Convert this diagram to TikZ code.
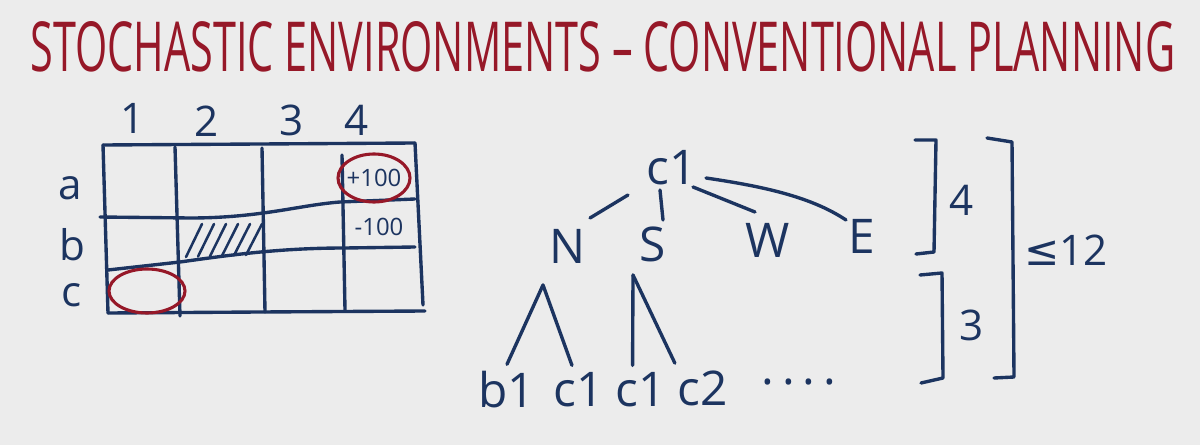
\documentclass[tikz,border=0pt]{standalone}
\usepackage{fontspec}
\setmainfont{Open Sans}
\newfontfamily\dvfont{DejaVu Sans}
\definecolor{ink}{RGB}{28,52,96}
\definecolor{redink}{RGB}{150,24,40}
\definecolor{board}{RGB}{236,236,236}
\begin{document}
\begin{tikzpicture}[x=0.025cm,y=-0.025cm,
  pen/.style={draw=ink,line width=2.4pt,line cap=round,line join=round},
  rpen/.style={draw=redink,line width=2.2pt},
  lab/.style={text=ink,font=\fontsize{30}{32}\selectfont,inner sep=4pt},
  small/.style={text=ink,font=\fontsize{17}{19}\selectfont,inner sep=1pt},
  tree/.style={text=ink,font=\fontsize{34}{36}\selectfont,inner sep=5pt}]
\fill[board] (0,0) rectangle (1200,445);
\useasboundingbox (0,0) rectangle (1200,445);
% title
\node[text=redink,anchor=center] (title) at (603,47)
  {\resizebox{28.6cm}{1.25cm}{STOCHASTIC ENVIRONMENTS – CONVENTIONAL PLANNING}};
% grid
\draw[pen] (103,145) -- (260,144) -- (415,143);
\draw[pen] (108,313) -- (260,312) -- (425,311);
\draw[pen] (103,145) -- (108,313);
\draw[pen] (175,147) -- (180,316);
\draw[pen] (262,148) -- (265,312);
\draw[pen] (342,155) -- (345,310);
\draw[pen] (415,143) -- (423,305);
\draw[pen] (100,217) -- (190,218) .. controls (260,218) and (300,205) .. (340,202) -- (415,199);
\draw[pen] (108,270) -- (180,262) .. controls (230,255) and (280,248) .. (345,248) -- (415,247);
% hatch in b2
\foreach \i in {0,...,5}
  \draw[pen,line width=1.8pt] ({186+12*\i},{257-0.4*\i}) -- ({202+12*\i},{224});
% column / row labels
\node[lab] (c1lab) at (133,118) {1};
\node[lab] (c2lab) at (207,121) {2};
\node[lab] (c3lab) at (292,120) {3};
\node[lab] (c4lab) at (357,120) {4};
\node[lab] (ra) at (70,188) {a};
\node[lab] (rb) at (72,245) {b};
\node[lab] (rc) at (72,295) {c};
% cell contents
\node[small] (plus) at (374,178) {+100};
\node[small] (minus) at (379,227) {-100};
\draw[rpen] (plus) ellipse [x radius=36, y radius=24];
\node (start) at (147,291) {};
\draw[rpen] (start) ellipse [x radius=38, y radius=22];
% tree
\node[tree] (root) at (672,168) {c1};
\node[tree] (n) at (568,246) {N};
\node[tree] (s) at (653,244) {S};
\node[tree] (w) at (768,240) {W};
\node[tree] (e) at (862,236) {E};
\coordinate (rN) at (628,195);
\coordinate (tN) at (590,218);
\coordinate (rS) at (660,190);
\coordinate (tS) at (663,220);
\coordinate (rW) at (693,187);
\coordinate (tW) at (755,212);
\coordinate (rE) at (706,178);
\coordinate (tE) at (846,220);
\draw[pen] (rN) -- (tN);
\draw[pen] (rS) -- (tS);
\draw[pen] (rW) -- (tW);
\draw[pen] (rE) .. controls (760,186) and (810,196) .. (tE);
\node[tree] (b1) at (507,390) {b1};
\node[tree] (l2) at (579,390) {c1};
\node[tree] (l3) at (641,390) {c1};
\node[tree] (l4) at (703,388) {c2};
\node[tree] (dots) at (803,382) {.\,.\,.\,.\,};
\coordinate (na) at (543,285);
\coordinate (sa) at (633,275);
\draw[pen] (na) -- (b1.north);
\draw[pen] (na) -- ([xshift=-5]l2.north);
\draw[pen] (sa) -- ([xshift=-6]l3.north);
\draw[pen] (sa) -- ([xshift=-20]l4.north);
% brackets
\draw[pen] (915,140) -- (936,140) -- (934,252) -- (916,254);
\node[lab] (four) at (962,200) {4};
\draw[pen] (920,275) -- (942,273) -- (943,378) -- (921,383);
\node[lab] (three) at (972,325) {3};
\draw[pen] (987,138) -- (1012,142) -- (1014,377) -- (994,378);
\node[lab] (le) at (1066,250) {{\dvfont ≤}12};
\end{tikzpicture}
\end{document}
